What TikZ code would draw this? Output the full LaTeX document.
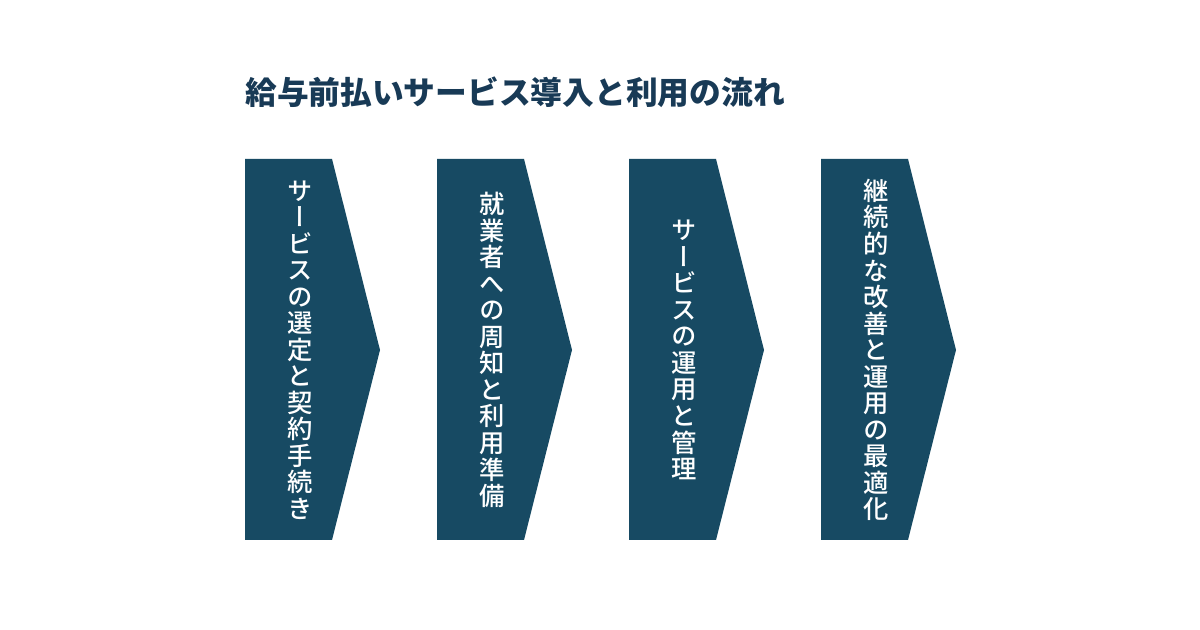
\documentclass[tikz,border=0pt]{standalone}
\usepackage{fontspec}
\newfontfamily\jpfont{Noto Sans CJK JP}
\newfontfamily\jpvert[RawFeature=+vert]{Noto Sans CJK JP Medium}
\definecolor{navy}{RGB}{24,58,86}
\definecolor{stepfill}{RGB}{23,74,99}

\begin{document}
\begin{tikzpicture}[x=0.75pt, y=-0.75pt,
	steptext/.style={text=white, align=center, inner sep=0pt,
		font=\jpvert\fontsize{19}{19.9}\selectfont}]
	\useasboundingbox[fill=white] (0,0) rectangle (1200,630);

	\node[anchor=west, text=navy, inner sep=0pt,
		font=\jpfont\bfseries\fontsize{23.8}{28}\selectfont] (title) at (245,92)
	{給与前払いサービス導入と利用の流れ};

	\foreach \x/\name/\txt in {
			245/select/{サ\\ー\\ビ\\ス\\の\\選\\定\\と\\契\\約\\手\\続\\き},
			437/notice/{就\\業\\者\\へ\\の\\周\\知\\と\\利\\用\\準\\備},
			629/operate/{サ\\ー\\ビ\\ス\\の\\運\\用\\と\\管\\理},
			821/improve/{継\\続\\的\\な\\改\\善\\と\\運\\用\\の\\最\\適\\化}} {
			\fill[stepfill] (\x,159) -- ++(87,0) -- ++(48,191) -- ++(-48,190)
			-- ++(-87,0) -- cycle;
			\node[steptext] (\name) at (\x+55,350) {\txt};
		}
\end{tikzpicture}
\end{document}
